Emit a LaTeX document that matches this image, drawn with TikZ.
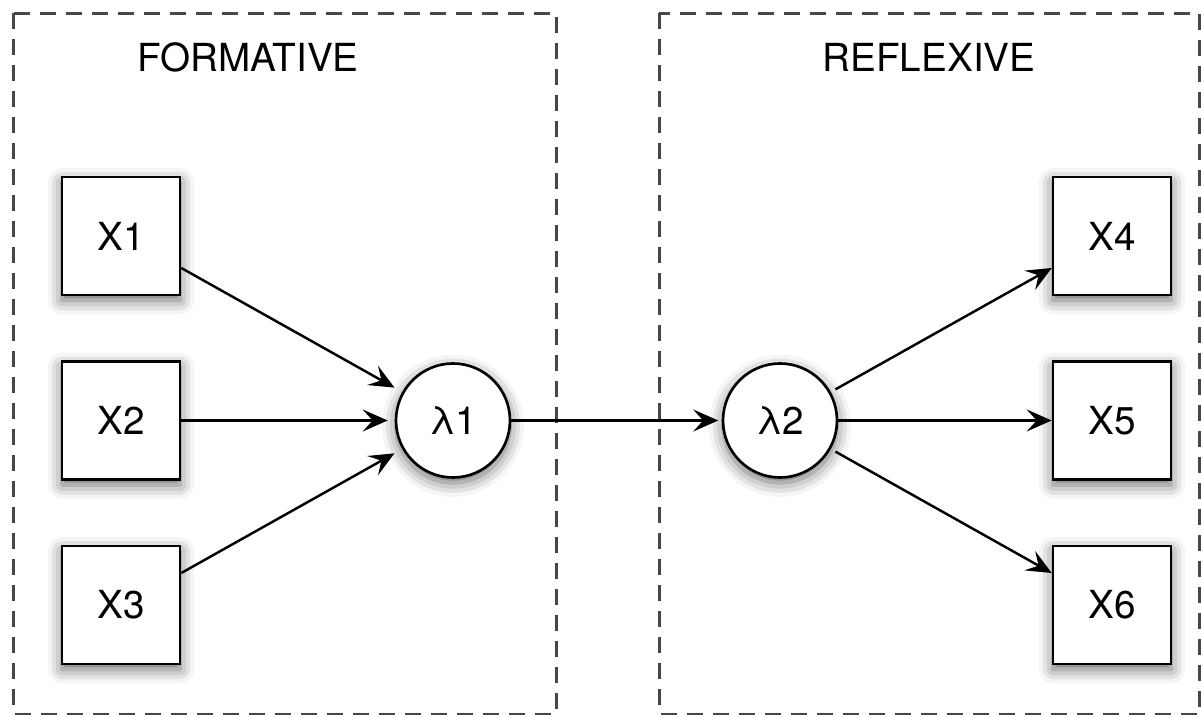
\documentclass[tikz,border=0pt]{standalone}
\usepackage{fontspec}
\setmainfont{TeX Gyre Heros}
\usetikzlibrary{arrows.meta,shadows.blur}
\tikzset{%
  >={Stealth[width=4.4mm,length=5mm,inset=2mm]},
  % Specifications for style of nodes:
        base/.style = {draw=black, line width=1.5pt, fill=white,
                       font=\fontsize{22}{26}\selectfont,
                       blur shadow={shadow xshift=0pt, shadow yshift=-3pt,
                                    shadow blur radius=8pt, shadow opacity=60}},
   indicator/.style = {base, rectangle, minimum size=2.36cm},
      latent/.style = {base, circle, minimum size=2.28cm, inner sep=0pt},
       frame/.style = {draw=black!72, line width=1.7pt,
                       dash pattern=on 3.2mm off 2mm},
       title/.style = {font=\fontsize{22}{26}\selectfont},
}

\begin{document}
\begin{tikzpicture}[node distance=3.69cm, line width=1.4pt]
  \useasboundingbox (0,0) rectangle (24.02,-14.36);
  % Specification of the two dashed frames
  \draw[frame] (0.27,-0.27) rectangle (11.12,-14.28);
  \draw[frame] (13.18,-0.27) rectangle (23.98,-14.28);
  \node (formative) [title] at (4.96,-1.14) {FORMATIVE};
  \node (reflexive) [title] at (18.58,-1.14) {REFLEXIVE};

  % Specification of nodes (position, etc.)
  \node (x1) [indicator] at (2.42,-4.72) {X1};
  \node (x2) [indicator, below of=x1] {X2};
  \node (x3) [indicator, below of=x2] {X3};
  \node (lam1) [latent, right of=x2, xshift=2.95cm] {λ1};
  \node (lam2) [latent, right of=lam1, xshift=2.85cm] {λ2};
  \node (x5) [indicator, right of=lam2, xshift=2.95cm] {X5};
  \node (x4) [indicator, above of=x5] {X4};
  \node (x6) [indicator, below of=x5] {X6};

  % Specification of lines between nodes specified above
  \draw[->, shorten >=5pt] ([yshift=-0.64cm]x1.east) -- (lam1);
  \draw[->, shorten >=4pt] (x2) -- (lam1);
  \draw[->, shorten >=5pt] ([yshift=0.64cm]x3.east) -- (lam1);
  \draw[->, shorten >=2pt] (lam1) -- (lam2);
  \draw[->, shorten <=3pt] (lam2) -- ([yshift=-0.64cm]x4.west);
  \draw[->] (lam2) -- (x5);
  \draw[->, shorten <=3pt] (lam2) -- ([yshift=0.64cm]x6.west);
\end{tikzpicture}
\end{document}
